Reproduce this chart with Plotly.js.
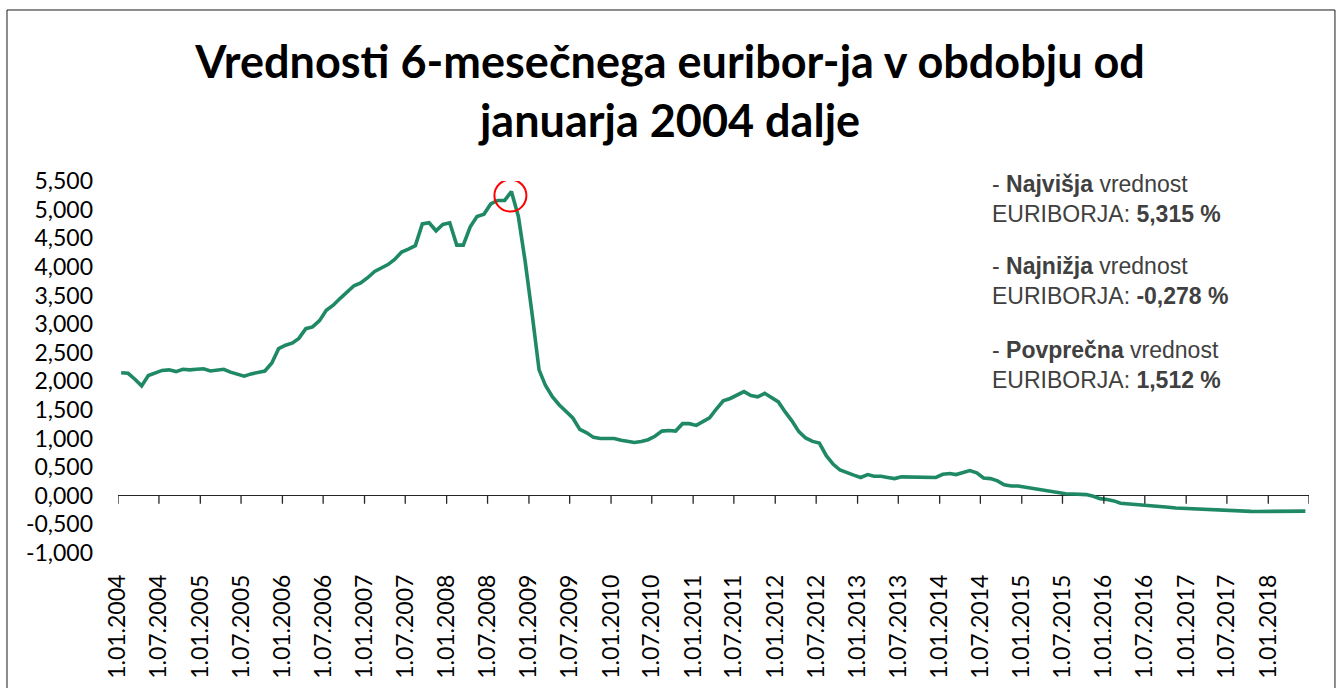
<!DOCTYPE html>
<html>
<head>
<meta charset="utf-8">
<script src="https://cdn.plot.ly/plotly-3.0.1.min.js"></script>
<style>
  html, body { margin: 0; padding: 0; background: #fff; }
  #chart { width: 1340px; height: 688px; }
</style>
</head>
<body>
<div id="chart"></div>
<script>
// Monthly 6-month EURIBOR values (%), January 2004 – June 2018
var startYear = 2004;
var startMonth = 1;
var euriborValues = [
  2.15, 2.14, 2.04, 1.92, 2.10, 2.14, 2.19, 2.20, 2.17, 2.21, 2.20, 2.21,
  2.22, 2.18, 2.19, 2.21, 2.16, 2.13, 2.09, 2.13, 2.15, 2.18, 2.32, 2.57,
  2.63, 2.67, 2.75, 2.92, 2.95, 3.06, 3.24, 3.33, 3.45, 3.56, 3.67, 3.72,
  3.81, 3.92, 3.98, 4.04, 4.13, 4.26, 4.31, 4.37, 4.75, 4.77, 4.63, 4.74,
  4.77, 4.38, 4.38, 4.70, 4.88, 4.92, 5.10, 5.16, 5.16, 5.315, 4.88, 4.10,
  3.18, 2.20, 1.93, 1.73, 1.59, 1.47, 1.36, 1.16, 1.10, 1.02, 1.00, 1.00,
  1.00, 0.97, 0.95, 0.93, 0.95, 0.98, 1.04, 1.13, 1.14, 1.13, 1.26, 1.26,
  1.23, 1.30, 1.36, 1.52, 1.66, 1.70, 1.76, 1.82, 1.75, 1.73, 1.79, 1.71,
  1.64, 1.46, 1.31, 1.12, 1.01, 0.95, 0.92, 0.70, 0.55, 0.45, 0.40, 0.36,
  0.32, 0.37, 0.34, 0.34, 0.32, 0.30, 0.33, 0.33, 0.33, 0.33, 0.33, 0.32,
  0.375, 0.39, 0.37, 0.40, 0.44, 0.40, 0.31, 0.30, 0.26, 0.19, 0.17, 0.17,
  0.15, 0.12, 0.10, 0.08, 0.06, 0.04, 0.035, 0.03, 0.03, 0.02, -0.01, -0.05,
  -0.065, -0.09, -0.13, -0.14, -0.145, -0.15, -0.17, -0.18, -0.19, -0.20, -0.215, -0.22,
  -0.23, -0.245, -0.25, -0.255, -0.26, -0.265, -0.27, -0.272, -0.273, -0.273, -0.274, -0.275,
  -0.275, -0.276, -0.278, -0.276, -0.271, -0.268
];

// Dates (mid-month) for each value
var euriborDates = [];
for (var i = 0; i < euriborValues.length; i++) {
  var m = startMonth - 1 + i;
  var y = startYear + Math.floor(m / 12);
  var mm = (m % 12) + 1;
  euriborDates.push(y + '-' + (mm < 10 ? '0' + mm : mm) + '-15');
}

// X axis ticks
var xTickVals = [
  '2004-01-01','2004-07-01','2005-01-01','2005-07-01','2006-01-01','2006-07-01',
  '2007-01-01','2007-07-01','2008-01-01','2008-07-01','2009-01-01','2009-07-01',
  '2010-01-01','2010-07-01','2011-01-01','2011-07-01','2012-01-01','2012-07-01',
  '2013-01-01','2013-07-01','2014-01-01','2014-07-01','2015-01-01','2015-07-01',
  '2016-01-01','2016-07-01','2017-01-01','2017-07-01','2018-01-01','2018-07-01'
];
var xTickText = [
  '1.01.2004','1.07.2004','1.01.2005','1.07.2005','1.01.2006','1.07.2006',
  '1.01.2007','1.07.2007','1.01.2008','1.07.2008','1.01.2009','1.07.2009',
  '1.01.2010','1.07.2010','1.01.2011','1.07.2011','1.01.2012','1.07.2012',
  '1.01.2013','1.07.2013','1.01.2014','1.07.2014','1.01.2015','1.07.2015',
  '1.01.2016','1.07.2016','1.01.2017','1.07.2017','1.01.2018',''
];

// Y axis ticks
var yTickVals = [-1, -0.5, 0, 0.5, 1, 1.5, 2, 2.5, 3, 3.5, 4, 4.5, 5, 5.5];
var yTickText = ['-1,000','-0,500','0,000','0,500','1,000','1,500','2,000','2,500',
                 '3,000','3,500','4,000','4,500','5,000','5,500'];

// Side notes
var noteLabels = ['Najvišja', 'Najnižja', 'Povprečna'];
var noteValues = ['5,315 %', '-0,278 %', '1,512 %'];

// Peak location (for the red circle)
var peakIdx = 0;
for (var j = 1; j < euriborValues.length; j++) {
  if (euriborValues[j] > euriborValues[peakIdx]) peakIdx = j;
}

var shapes = [];
// tick marks on the zero line
xTickVals.forEach(function (tv) {
  shapes.push({
    type: 'line', xref: 'x', yref: 'y',
    x0: tv, x1: tv,
    ysizemode: 'pixel', yanchor: 0, y0: 0, y1: -8,
    line: { color: '#262626', width: 1.3 }
  });
});
// red circle at the peak
shapes.push({
  type: 'circle', xref: 'x', yref: 'y',
  xsizemode: 'pixel', xanchor: euriborDates[peakIdx], x0: -17, x1: 15,
  ysizemode: 'pixel', yanchor: euriborValues[peakIdx], y0: -20, y1: 12,
  line: { color: '#ff0000', width: 2 },
  fillcolor: 'rgba(0,0,0,0)'
});
// outer frame
shapes.push({
  type: 'rect', xref: 'paper', yref: 'paper',
  x0: -0.0932, x1: 1.0218, y0: -0.40, y1: 1.4597,
  line: { color: '#1a1a1a', width: 1 },
  fillcolor: 'rgba(0,0,0,0)'
});

var noteY = [0.9516, 0.731, 0.5067];
var annotations = noteLabels.map(function (lab, k) {
  return {
    xref: 'paper', yref: 'paper',
    x: 0.7325, y: noteY[k],
    xanchor: 'left', yanchor: 'middle', align: 'left',
    showarrow: false,
    text: '- <b>' + lab + '</b> vrednost<br>EURIBORJA: <b>' + noteValues[k] + '</b>',
    font: { family: 'Liberation Sans, Arial, sans-serif', size: 23, color: '#404040' }
  };
});

var trace = {
  type: 'scatter', mode: 'lines',
  x: euriborDates, y: euriborValues,
  line: { color: '#1f8966', width: 3.6 },
  hoverinfo: 'x+y'
};

var layout = {
  width: 1340, height: 688,
  margin: { l: 118, r: 31, t: 181, b: 135 },
  paper_bgcolor: '#ffffff', plot_bgcolor: '#ffffff',
  showlegend: false,
  title: {
    text: '<b>Vrednosti 6-mesečnega euribor-ja v obdobju od<br>januarja 2004 dalje</b>',
    font: { family: 'Lato, Carlito, sans-serif', size: 45, color: '#000000' },
    x: 0.5, xanchor: 'center', xref: 'container',
    y: 0.886, yanchor: 'top', yref: 'container'
  },
  xaxis: {
    type: 'date',
    range: ['2004-01-01', '2018-07-01'],
    tickmode: 'array', tickvals: xTickVals, ticktext: xTickText,
    tickangle: -90,
    ticks: '', showline: false, showgrid: false, zeroline: false,
    ticklabelstandoff: 16,
    tickfont: { family: 'Lato, Carlito, sans-serif', size: 23, color: '#000000' },
    fixedrange: true
  },
  yaxis: {
    range: [-1, 5.5],
    tickmode: 'array', tickvals: yTickVals, ticktext: yTickText,
    ticks: '', showline: false, showgrid: false,
    zeroline: true, zerolinecolor: '#262626', zerolinewidth: 1.3,
    ticklabelstandoff: 24,
    tickfont: { family: 'Lato, Carlito, sans-serif', size: 23, color: '#000000' },
    fixedrange: true
  },
  shapes: shapes,
  annotations: annotations
};

Plotly.newPlot('chart', [trace], layout, { displayModeBar: false, staticPlot: true });
</script>
</body>
</html>
